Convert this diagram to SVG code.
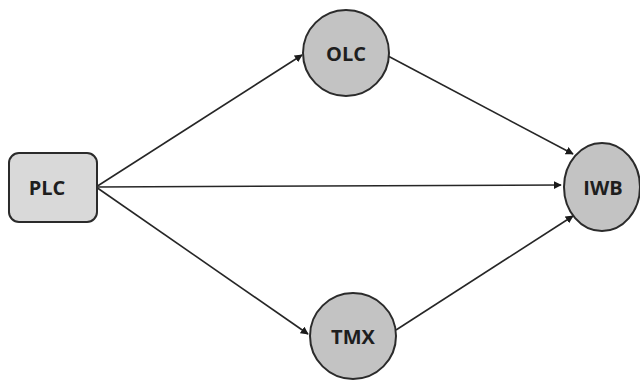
<svg xmlns="http://www.w3.org/2000/svg" width="640" height="381" viewBox="0 0 640 381">
  <style>
    .node { stroke: #2b2b2b; stroke-width: 2; }
    .box { fill: #d9d9d9; }
    .circ { fill: #c3c3c3; }
    .label { font-family: "Open Sans", "Liberation Sans", sans-serif; font-weight: bold; font-size: 20px; fill: #1e1e1e; text-anchor: middle; }
    .edge { stroke: #262626; stroke-width: 1.6; fill: none; marker-end: url(#arrow); }
  </style>
  <defs>
    <marker id="arrow" viewBox="0 0 10 10" refX="9" refY="5" markerWidth="5" markerHeight="5" orient="auto" markerUnits="strokeWidth">
      <path d="M0,0 L10,5 L0,10 z" fill="#1a1a1a"/>
    </marker>
  </defs>
  <rect width="640" height="381" fill="#ffffff"/>

  <g id="connectors">
    <line class="edge" x1="96" y1="187" x2="302" y2="55"/>
    <line class="edge" x1="96" y1="187" x2="561" y2="185"/>
    <line class="edge" x1="96" y1="187" x2="308" y2="334"/>
    <line class="edge" x1="388" y1="56" x2="573" y2="154"/>
    <line class="edge" x1="396" y1="330" x2="573" y2="216"/>
  </g>

  <g id="PLC">
    <rect class="node box" x="9" y="153" width="88" height="69" rx="10"/>
    <text class="label" x="47" y="195">PLC</text>
  </g>
  <g id="OLC">
    <circle class="node circ" cx="346" cy="53" r="43"/>
    <text class="label" x="346" y="61">OLC</text>
  </g>
  <g id="TMX">
    <circle class="node circ" cx="353" cy="336" r="43"/>
    <text class="label" x="353" y="344">TMX</text>
  </g>
  <g id="IWB">
    <ellipse class="node circ" cx="602" cy="187" rx="38" ry="44"/>
    <text class="label" x="603" y="195">IWB</text>
  </g>
</svg>
